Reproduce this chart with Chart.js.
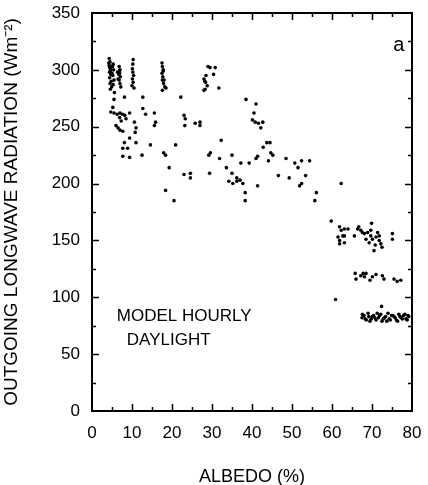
<!DOCTYPE html>
<html>
<head>
<meta charset="utf-8">
<script src="https://cdn.jsdelivr.net/npm/chart.js@4/dist/chart.umd.min.js"></script>
<style>
  html, body { margin: 0; padding: 0; background: #fff; }
  #wrap { width: 428px; height: 485px; position: relative; }
</style>
</head>
<body>
<div id="wrap"><canvas id="chart"></canvas></div>
<script>
const albedo = [
  4.3, 4.5, 4.3, 4.6, 4.4, 4.7, 4.4, 4.8, 4.5, 4.9, 4.6, 5.3, 5.4, 5.2, 5.5, 5.3, 5.6,
  6.8, 7.0, 6.9, 7.1, 6.8, 7.0, 7.2, 6.4, 6.5,
  10.3, 10.1, 10.2, 10.4, 10.1, 10.3, 10.0, 10.5,
  17.5, 17.6, 17.8, 17.5, 17.7, 18.0, 17.9, 18.2, 17.6, 18.5,
  29.0, 29.5, 30.8, 30.4, 28.5, 28.0, 28.2, 28.4, 28.8, 28.0, 28.3, 31.7,
  22.2, 12.7, 8.1, 5.5, 5.2,
  4.7, 5.5, 6.3, 7.0, 7.6, 8.2, 9.4, 12.7, 13.4, 15.6,
  23.0, 23.3, 25.8, 15.9, 15.6,
  6.9, 7.3, 8.5, 6.0, 6.5, 7.0, 7.7,
  10.6, 11.0, 10.8, 23.2, 9.4, 8.1, 11.0, 7.7, 8.9, 14.6, 20.9,
  7.7, 9.4, 12.5, 17.9, 18.4, 19.3, 23.0, 24.6, 24.6, 18.4, 20.5,
  38.5, 41.0, 40.5, 40.1, 40.8, 41.6, 42.7, 42.2,
  27.0, 27.0,
  32.3, 29.6, 29.2, 31.9, 35.0, 37.2, 39.3, 41.0, 41.4, 42.8, 43.7, 44.5, 44.7, 45.2, 44.1, 48.5, 46.6, 33.6, 35.0, 29.4,
  36.2, 37.0, 34.2, 35.2, 36.2, 37.7, 41.4, 38.3, 38.3,
  50.7, 51.5, 52.4, 54.4, 49.3, 53.4, 51.9, 52.4, 56.1, 55.7, 62.3, 59.8,
  61.9, 62.3, 63.1, 61.5, 61.9, 62.7, 63.1, 61.9, 63.1,
  65.6, 66.4, 67.2, 68.1, 68.9, 69.7, 69.7, 70.1, 71.0, 71.4, 71.8, 71.8, 72.2, 72.5, 70.5, 69.9, 68.5, 69.3, 75.1, 75.1,
  64.0, 67.6, 66.7, 70.8,
  65.8, 66.0, 67.2, 67.8, 68.1, 68.5, 69.5, 70.1, 71.0, 72.6, 73.0, 75.5, 76.3, 77.2,
  60.9, 72.4,
  67.5, 68.0, 68.6, 69.2, 69.8, 70.4, 71.0, 71.6, 72.2, 72.8, 73.4, 74.0, 74.6, 75.2, 75.8, 76.4, 77.0, 77.6, 78.2, 78.8, 79.2, 73.7, 71.3,
  67.6, 68.3, 69.0, 69.5, 70.1, 70.7, 71.9, 72.5, 73.1, 74.3, 74.9, 75.5, 76.1, 76.7, 77.3, 77.9, 78.5, 79.0,
  4.2, 4.4, 4.6, 5.1, 5.0, 6.7, 6.9, 10.2, 17.6, 17.8
];

const olr = [
  310, 307, 304, 301, 298, 296, 293, 290, 288, 285, 283, 305, 300, 295, 291, 287, 280,
  303, 300, 297, 294, 291, 288, 285, 298, 292,
  309, 301, 298, 295, 292, 289, 286, 284,
  306, 303, 300, 297, 294, 291, 288, 285, 282, 284,
  303, 302, 302, 296, 295, 292, 290, 289, 286, 282, 283, 284,
  276, 276, 276, 274, 267,
  263, 262, 261, 262, 261, 260, 262, 266, 261, 262,
  260, 257, 253, 254, 251,
  258, 255, 257, 251, 249, 247, 246,
  254, 249, 245, 251, 240, 236, 236, 231, 231, 234, 234,
  224, 223, 225, 227, 225, 214, 208, 209, 205, 194, 185,
  274, 270, 262, 256, 254, 253, 254, 249,
  254, 251,
  238, 227, 225, 222, 225, 218, 218, 222, 224, 232, 236, 236, 227, 225, 220, 222, 207, 214, 209, 209,
  205, 203, 202, 200, 202, 200, 198, 192, 185,
  218, 214, 220, 220, 205, 207, 198, 200, 192, 185, 200, 167,
  162, 159, 160, 153, 150, 154, 154, 147, 148,
  154, 160, 159, 156, 157, 159, 154, 151, 153, 157, 154, 150, 147, 144, 141, 165, 151, 148, 156, 151,
  160, 157, 162, 146,
  121, 116, 119, 121, 118, 121, 115, 118, 120, 119, 116, 116, 114, 115,
  98, 92,
  82, 84, 80, 83, 81, 84, 80, 82, 85, 81, 83, 86, 80, 84, 82, 79, 83, 81, 85, 80, 83, 79, 86,
  85, 81, 86, 79, 83, 82, 84, 79, 82, 81, 84, 83, 80, 85, 82, 84, 81, 84,
  306, 302, 299, 303, 297, 296, 299, 305, 291, 299
];

const xTicks = [0, 10, 20, 30, 40, 50, 60, 70, 80];
const yTicks = [0, 50, 100, 150, 200, 250, 300, 350];
const labelLines = ['MODEL HOURLY', 'DAYLIGHT'];
const panelLabel = 'a';

const FONT = "'Liberation Sans', Arial, Helvetica, sans-serif";

// frame + inward tick marks on all four sides, and the text inside the plot
const framePlugin = {
  id: 'frame',
  afterDraw(chart) {
    const { ctx, chartArea: a, scales } = chart;
    ctx.save();
    ctx.strokeStyle = '#000';
    ctx.lineWidth = 2;
    ctx.strokeRect(a.left, a.top, a.right - a.left, a.bottom - a.top);

    ctx.lineWidth = 1.5;
    ctx.beginPath();
    for (let v = 5; v < 80; v += 5) {
      const px = Math.round(scales.x.getPixelForValue(v)) + 0.5;
      const len = v % 10 === 0 ? 7 : 4;
      ctx.moveTo(px, a.bottom); ctx.lineTo(px, a.bottom - len);
      ctx.moveTo(px, a.top); ctx.lineTo(px, a.top + len);
    }
    for (let v = 25; v < 350; v += 25) {
      const py = Math.round(scales.y.getPixelForValue(v)) + 0.5;
      const len = v % 50 === 0 ? 7 : 4;
      ctx.moveTo(a.left, py); ctx.lineTo(a.left + len, py);
      ctx.moveTo(a.right, py); ctx.lineTo(a.right - len, py);
    }
    ctx.stroke();

    ctx.fillStyle = '#000';
    ctx.textBaseline = 'middle';
    ctx.textAlign = 'left';
    ctx.font = '17px ' + FONT;
    ctx.fillText(labelLines[0], scales.x.getPixelForValue(6.2), scales.y.getPixelForValue(83));
    ctx.fillText(labelLines[1], scales.x.getPixelForValue(8.7), scales.y.getPixelForValue(62));
    ctx.font = '20px ' + FONT;
    ctx.textAlign = 'center';
    ctx.fillText(panelLabel, scales.x.getPixelForValue(76.7), scales.y.getPixelForValue(321));
    ctx.restore();
  }
};

const points = albedo.map((x, i) => ({ x, y: olr[i] }));

new Chart(document.getElementById('chart'), {
  type: 'scatter',
  data: {
    datasets: [{
      data: points,
      backgroundColor: '#000',
      borderColor: '#000',
      pointRadius: 1.8,
      pointHoverRadius: 1.8,
      borderWidth: 0,
    }],
  },
  options: {
    responsive: true,
    maintainAspectRatio: false,
    animation: false,
    events: [],
    layout: { padding: { left: 0, right: 16, top: 13, bottom: 0 } },
    plugins: { legend: { display: false }, tooltip: { enabled: false } },
    scales: {
      x: {
        type: 'linear',
        min: 0,
        max: 80,
        border: { display: false },
        grid: { display: false, drawTicks: false },
        afterBuildTicks: s => { s.ticks = xTicks.map(value => ({ value })); },
        afterFit: s => { s.height = 74; s.paddingLeft = 0; s.paddingRight = 0; },
        ticks: { color: '#000', font: { family: FONT, size: 17 }, padding: 12, autoSkip: false, maxRotation: 0 },
        title: { display: true, text: 'ALBEDO (%)', color: '#000', font: { family: FONT, size: 18 }, padding: { top: -3, bottom: -3 } },
      },
      y: {
        type: 'linear',
        min: 0,
        max: 350,
        border: { display: false },
        grid: { display: false, drawTicks: false },
        afterBuildTicks: s => { s.ticks = yTicks.map(value => ({ value })); },
        afterFit: s => { s.width = 92; s.paddingTop = 0; s.paddingBottom = 0; },
        ticks: { color: '#000', font: { family: FONT, size: 17 }, padding: 12, autoSkip: false },
        title: { display: true, text: 'OUTGOING LONGWAVE RADIATION (Wm⁻²)', color: '#000', font: { family: FONT, size: 19 }, padding: { top: 0, bottom: 0 } },
      },
    },
  },
  plugins: [framePlugin],
});
</script>
</body>
</html>
